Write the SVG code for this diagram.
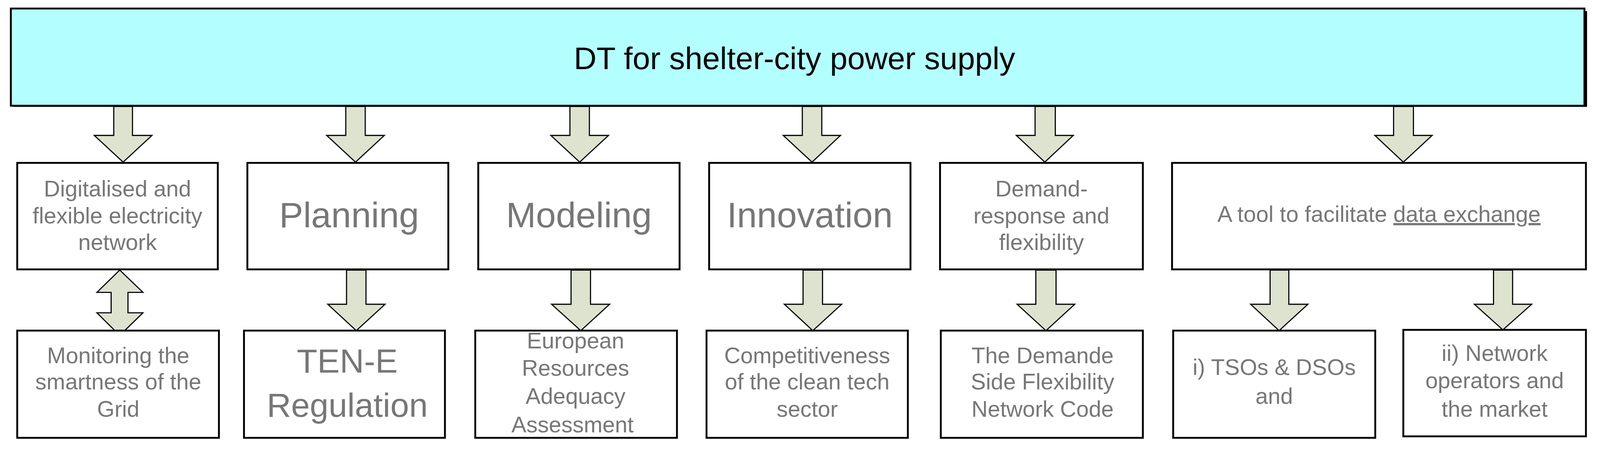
<svg xmlns="http://www.w3.org/2000/svg" width="4273" height="1188" viewBox="0 0 4273 1188">
<style>
.box{fill:#fff;stroke:#000;stroke-width:5}
.ar{fill:#dde3cf;stroke:#000;stroke-width:3;stroke-linejoin:miter}
.t{font-family:"Liberation Sans",Arial,sans-serif;fill:#777;text-anchor:middle;font-size:60px}
.big{font-size:96px}
</style>
<rect width="4273" height="1188" fill="#fff"/>
<g transform="scale(0.958 0.95)">
<g id="root">
<rect x="36" y="30" width="4205" height="258" fill="#000"/>
<rect x="29" y="23" width="4205" height="262" fill="#b3ffff" stroke="#000" stroke-width="5"/>
<text x="2123" y="186" style="font-family:'Liberation Sans',Arial,sans-serif;font-size:84px;fill:#000" text-anchor="middle">DT for shelter-city power supply</text>
</g>
<g id="connectors">
<polygon class="ar" points="304,287 354,287 354,365 406,365 329,437 252,365 304,365"/>
<polygon class="ar" points="924,287 976,287 976,365 1027,365 950,437 873,365 924,365"/>
<polygon class="ar" points="1523,287 1575,287 1575,365 1626,365 1549,437 1472,365 1523,365"/>
<polygon class="ar" points="2144,287 2196,287 2196,365 2246,365 2170,437 2093,365 2144,365"/>
<polygon class="ar" points="2766,287 2820,287 2820,365 2868,365 2792,437 2716,365 2766,365"/>
<polygon class="ar" points="3724,287 3777,287 3777,365 3827,365 3750,437 3674,365 3724,365"/>
<polygon class="ar" points="320,728 382,788 342,788 342,843 382,843 320,904 259,843 297,843 297,788 259,788"/>
<polygon class="ar" points="926,728 978,728 978,820 1029,820 952,891 876,820 926,820"/>
<polygon class="ar" points="1526,728 1578,728 1578,820 1629,820 1552,891 1474,820 1526,820"/>
<polygon class="ar" points="2146,728 2198,728 2198,820 2249,820 2172,891 2096,820 2146,820"/>
<polygon class="ar" points="2768,728 2822,728 2822,820 2872,820 2795,891 2718,820 2768,820"/>
<polygon class="ar" points="3394,728 3444,728 3444,820 3495,820 3418,891 3342,820 3394,820"/>
<polygon class="ar" points="3991,728 4042,728 4042,820 4093,820 4016,889 3940,820 3991,820"/>
</g>
<g id="n1"><rect class="box" x="46" y="439" width="536" height="287"/>
<text class="t" x="314" y="529">Digitalised and</text><text class="t" x="314" y="602">flexible electricity</text><text class="t" x="314" y="674">network</text></g>
<g id="n2"><rect class="box" x="661" y="439" width="537" height="287"/><text class="t big" x="933" y="613">Planning</text></g>
<g id="n3"><rect class="box" x="1278" y="439" width="538" height="287"/><text class="t big" x="1547" y="613">Modeling</text></g>
<g id="n4"><rect class="box" x="1895" y="439" width="538" height="287"/><text class="t big" x="2164" y="613">Innovation</text></g>
<g id="n5"><rect class="box" x="2512" y="439" width="542" height="287"/>
<text class="t" x="2783" y="529">Demand-</text><text class="t" x="2783" y="602">response and</text><text class="t" x="2783" y="674">flexibility</text></g>
<g id="n6"><rect class="box" x="3132" y="439" width="1106" height="287"/>
<text class="t" x="3685" y="598">A tool to facilitate <tspan text-decoration="underline">data exchange</tspan></text></g>
<g id="n1b"><rect class="box" x="46" y="891" width="539" height="289"/>
<text class="t" x="316" y="979">Monitoring the</text><text class="t" x="316" y="1050">smartness of the</text><text class="t" x="316" y="1123">Grid</text></g>
<g id="n2b"><rect class="box" x="652" y="891" width="537" height="289"/>
<text class="t" style="font-size:90px" x="928" y="1004">TEN-E</text><text class="t" style="font-size:90px" x="928" y="1123">Regulation</text></g>
<g id="n3b"><rect class="box" x="1270" y="891" width="539" height="289"/>
<text class="t" x="1538" y="939">European</text><text class="t" x="1538" y="1013">Resources</text><text class="t" x="1538" y="1088">Adequacy</text><text class="t" x="1530" y="1165">Assessment</text></g>
<g id="n4b"><rect class="box" x="1888" y="891" width="538" height="289"/>
<text class="t" x="2157" y="979">Competitiveness</text><text class="t" x="2157" y="1050">of the clean tech</text><text class="t" x="2157" y="1123">sector</text></g>
<g id="n5b"><rect class="box" x="2514" y="891" width="540" height="289"/>
<text class="t" x="2786" y="979">The Demande</text><text class="t" x="2786" y="1050">Side Flexibility</text><text class="t" x="2786" y="1123">Network Code</text></g>
<g id="n6a"><rect class="box" x="3135" y="891" width="540" height="289"/>
<text class="t" x="3405" y="1011">i) TSOs &amp; DSOs</text><text class="t" x="3405" y="1088">and</text></g>
<g id="n6b"><rect class="box" x="3750" y="889" width="488" height="287"/>
<text class="t" x="3994" y="973">ii) Network</text><text class="t" x="3994" y="1046">operators and</text><text class="t" x="3994" y="1123">the market</text></g>
</g>
</svg>
